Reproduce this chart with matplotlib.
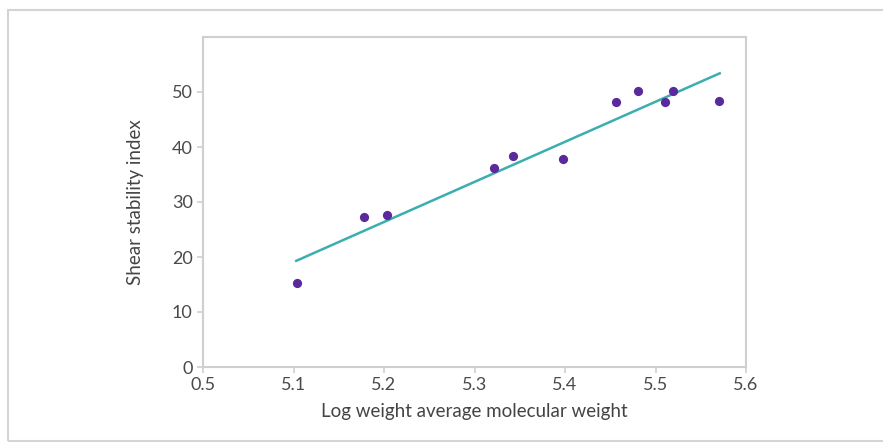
import matplotlib
matplotlib.use("Agg")
import matplotlib.pyplot as plt
from matplotlib.patches import Rectangle

# log weight average molecular weight vs shear stability index
log_mw = [5.104, 5.178, 5.203, 5.322, 5.343, 5.398, 5.456, 5.481, 5.510, 5.519, 5.570]
ssi = [15.2, 27.2, 27.7, 36.2, 38.4, 37.9, 48.1, 50.1, 48.1, 50.2, 48.4]

# fitted trend line end points
fit_x = [5.103, 5.571]
fit_y = [19.3, 53.4]

xticks = [5.0, 5.1, 5.2, 5.3, 5.4, 5.5, 5.6]
xtick_labels = ["0.5", "5.1", "5.2", "5.3", "5.4", "5.5", "5.6"]
yticks = [0, 10, 20, 30, 40, 50]

plt.rcParams["font.family"] = ["Lato", "DejaVu Sans"]

fig = plt.figure(figsize=(8.83, 4.43), dpi=100)
ax = fig.add_axes([203 / 883, 1 - 367 / 443, 543 / 883, 330 / 443])

# outer frame around the figure (open on the right)
fig.patches.append(Rectangle((8 / 883, 2 / 443), 1.2, 431 / 443, transform=fig.transFigure,
                             fill=False, ec="#d4d4d4", lw=1.5))

ax.plot(fit_x, fit_y, color="#3aaeb0", lw=1.8, zorder=2)
ax.scatter(log_mw, ssi, s=44, color="#5a2a9c", zorder=3, lw=0)

ax.set_xlim(5.0, 5.6)
ax.set_ylim(0, 60)
ax.set_xticks(xticks)
ax.set_xticklabels(xtick_labels)
ax.set_yticks(yticks)
for s in ax.spines.values():
    s.set_color("#cfcfcf"); s.set_linewidth(1.5)
ax.tick_params(colors="#cfcfcf", labelcolor="#4a4a4a", labelsize=13, length=4, width=1.2)
ax.set_xlabel("Log weight average molecular weight", fontsize=13.5, color="#444444", labelpad=7)
ax.set_ylabel("Shear stability index", fontsize=13.5, color="#444444", labelpad=20)

fig.savefig("out.png", dpi=100)
